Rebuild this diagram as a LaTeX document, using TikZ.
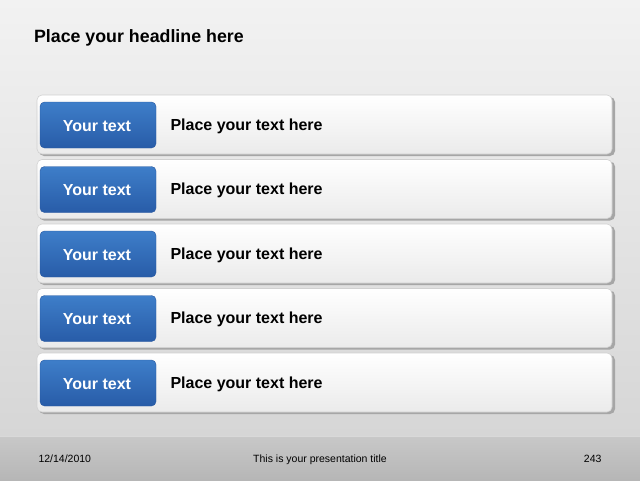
\documentclass[tikz,border=0pt]{standalone}
\usepackage{fontspec}
\setmainfont{Liberation Sans}
\begin{document}
\begin{tikzpicture}[x=1pt,y=-1pt,
  bar/.style={rounded corners=5pt, draw=black!18, line width=0.6pt, top color=white, bottom color=black!8},
  barshadow/.style={rounded corners=5pt, fill=black!35},
  bluebox/.style={rounded corners=4.5pt, top color={rgb,255:red,62;green,126;blue,201}, bottom color={rgb,255:red,40;green,92;blue,168}, draw={rgb,255:red,40;green,88;blue,160}, line width=0.4pt},
  boxtext/.style={text=white, font=\fontsize{16}{19}\selectfont\bfseries},
  rowtext/.style={anchor=west, font=\fontsize{16}{19}\selectfont\bfseries},
  foot/.style={font=\fontsize{10.5}{12}\selectfont}
]
\useasboundingbox (0,0) rectangle (640,480);
\shade[top color={rgb,255:red,242;green,242;blue,242}, bottom color={rgb,255:red,214;green,214;blue,214}] (0,0) rectangle (640,436);
\shade[top color={rgb,255:red,200;green,200;blue,200}, bottom color={rgb,255:red,182;green,182;blue,182}] (0,436) rectangle (640,480);
\draw[white!85!black, line width=1pt] (0,436.5) -- (640,436.5);
\node[anchor=west, font=\fontsize{17.8}{21}\selectfont\bfseries] (head) at (30.5,38) {Place your headline here};
\foreach \i/\y in {1/95,2/159.5,3/224,4/288.5,5/353}{
  \fill[barshadow] (39,\y+2) rectangle (615,\y+61);
  \draw[bar] (37,\y) rectangle (612,\y+59);
  \draw[bluebox] (40,\y+7) rectangle (156,\y+53);
  \node[boxtext] (b\i) at (97,\y+31) {Your text};
  \node[rowtext] (t\i) at (167,\y+31) {Place your text here};
}
\node[anchor=base west, foot] (date) at (35,462) {12/14/2010};
\node[anchor=base, foot] (title) at (320,462) {This is your presentation title};
\node[anchor=base east, foot] (num) at (605,462) {243};
\end{tikzpicture}
\end{document}
